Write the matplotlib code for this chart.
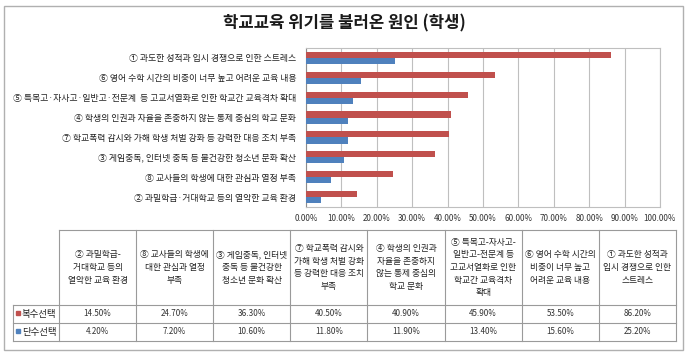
import matplotlib.pyplot as plt
from matplotlib.patches import Rectangle
import numpy as np

plt.rcParams['font.family'] = ['Noto Sans CJK KR', 'DejaVu Sans']

# 데이터 (아래에서 위 순서 = 표의 왼쪽에서 오른쪽 순서)
title = "학교교육 위기를 불러온 원인 (학생)"
causes = [
    "② 과밀학급·거대학교 등의 열악한 교육 환경",
    "⑧ 교사들의 학생에 대한 관심과 열정 부족",
    "③ 게임중독, 인터넷 중독 등 불건강한 청소년 문화 확산",
    "⑦ 학교폭력 감시와 가해 학생 처벌 강화 등 강력한 대응 조치 부족",
    "④ 학생의 인권과 자율을 존중하지 않는 통제 중심의 학교 문화",
    "⑤ 특목고·자사고·일반고·전문계  등 고교서열화로 인한 학교간 교육격차 확대",
    "⑥ 영어 수학 시간의 비중이 너무 높고 어려운 교육 내용",
    "① 과도한 성적과 입시 경쟁으로 인한 스트레스",
]
table_heads = [
    "② 과밀학급-\n거대학교 등의\n열악한 교육 환경",
    "⑧ 교사들의 학생에\n대한 관심과 열정\n부족",
    "③ 게임중독, 인터넷\n중독 등 불건강한\n청소년 문화 확산",
    "⑦ 학교폭력 감시와\n가해 학생 처벌 강화\n등 강력한 대응 조치\n부족",
    "④ 학생의 인권과\n자율을 존중하지\n않는 통제 중심의\n학교 문화",
    "⑤ 특목고-자사고-\n일반고-전문계 등\n고교서열화로 인한\n학교간 교육격차\n확대",
    "⑥ 영어 수학 시간의\n비중이 너무 높고\n어려운 교육 내용",
    "① 과도한 성적과\n입시 경쟁으로 인한\n스트레스",
]
multi = [14.5, 24.7, 36.3, 40.5, 40.9, 45.9, 53.5, 86.2]
single = [4.2, 7.2, 10.6, 11.8, 11.9, 13.4, 15.6, 25.2]
series_names = ["복수선택", "단수선택"]
xticks = np.arange(0, 101, 10)

red = "#C0504D"
blue = "#4F81BD"
grid_c = "#BFBFBF"
line_c = "#9A9A9A"

W, H = 691, 356
fig = plt.figure(figsize=(W / 100, H / 100), dpi=100)

# 픽셀 좌표 오버레이 (제목, 테두리, 표)
ov = fig.add_axes([0, 0, 1, 1])
ov.set_xlim(0, W)
ov.set_ylim(H, 0)
ov.axis('off')

ov.add_patch(Rectangle((4, 6), 679, 344, fill=False, ec="#B0B0B0", lw=1))
ov.text(344, 23, title, ha='center', va='center', fontsize=12,
        fontweight='bold', color='#1a1a1a')

# 막대 그래프
ax = fig.add_axes([306 / W, 1 - 207 / H, 354 / W, 159 / H])
y = np.arange(len(causes))
h = 0.31
ax.barh(y + h / 2, multi, height=h, color=red, zorder=3)
ax.barh(y - h / 2, single, height=h, color=blue, zorder=3)
ax.set_xlim(0, 100)
ax.set_ylim(-0.5, len(causes) - 0.5)
ax.set_xticks(xticks)
ax.set_xticklabels([f"{t:.2f}%" for t in xticks], fontsize=5.8, color='#333333')
ax.set_yticks(y)
ax.set_yticklabels(causes, fontsize=6.4, color='#222222')
ax.tick_params(length=0, pad=7)
ax.tick_params(axis='x', pad=5)
ax.grid(axis='x', color=grid_c, lw=0.8, zorder=0)
for s in ax.spines.values():
    s.set_color(grid_c)
    s.set_linewidth(0.8)
ax.spines['left'].set_color('#8C8C8C')

# 데이터 표
x0, x1, xr = 13, 59, 676
cw = (xr - x1) / len(table_heads)
yt, yh, yr1, yr2 = 230, 305, 323, 341
for yy, xs in [(yt, x1), (yh, x0), (yr1, x0), (yr2, x0)]:
    ov.plot([xs, xr], [yy, yy], color=line_c, lw=0.8)
ov.plot([x0, x0], [yh, yr2], color=line_c, lw=0.8)
for i in range(len(table_heads) + 1):
    xx = x1 + i * cw
    ov.plot([xx, xx], [yt, yr2], color=line_c, lw=0.8)

for i, head in enumerate(table_heads):
    cx = x1 + (i + 0.5) * cw
    ov.text(cx, (yt + yh) / 2, head, ha='center', va='center', fontsize=6.3,
            color='#222222', linespacing=1.5)
    ov.text(cx, (yh + yr1) / 2, f"{multi[i]:.2f}%", ha='center', va='center',
            fontsize=5.8, color='#333333')
    ov.text(cx, (yr1 + yr2) / 2, f"{single[i]:.2f}%", ha='center', va='center',
            fontsize=5.8, color='#333333')

for name, col, (ya, yb) in zip(series_names, [red, blue], [(yh, yr1), (yr1, yr2)]):
    cy = (ya + yb) / 2
    ov.add_patch(Rectangle((16, cy - 3.5), 4, 4, color=col))
    ov.text(22, cy, name, ha='left', va='center', fontsize=6.8, color='#222222')

fig.savefig("out.png", dpi=100)
